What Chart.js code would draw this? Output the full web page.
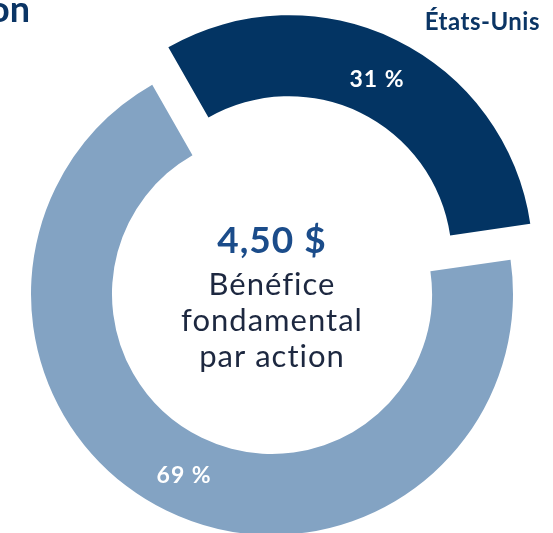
<!DOCTYPE html>
<html lang="fr">
<head>
<meta charset="utf-8">
<script src="https://cdn.jsdelivr.net/npm/chart.js@4.4.1/dist/chart.umd.min.js"></script>
<style>
  html, body { margin: 0; padding: 0; background: #fff; overflow: hidden; }
  #wrap { position: absolute; left: 0; top: 0; width: 544px; height: 588px; }
</style>
</head>
<body>
<div id="wrap"><canvas id="chart"></canvas></div>
<script>
// Données
const categories = ['États-Unis', 'Canada'];
const shares = [31, 69];
const colors = ['#033463', '#83a3c3'];
const centerValue = '4,50 $';
const centerLines = ['Bénéfice', 'fondamental', 'par action'];
const titleTail = 'on';

// Textes : pourcentages sur les arcs, libellé, texte central
const labelsPlugin = {
    id: 'labels',
    afterDatasetsDraw(chart) {
        const ctx = chart.ctx;
        const meta = chart.getDatasetMeta(0);
        ctx.save();
        ctx.textAlign = 'center';
        ctx.textBaseline = 'middle';
        ctx.fillStyle = '#ffffff';
        ctx.font = 'bold 23px Lato';
        ctx.letterSpacing = '1px';
        meta.data.forEach((arc, i) => {
            const p = arc.getProps(['x', 'y', 'startAngle', 'endAngle', 'innerRadius', 'outerRadius'], true);
            const mid = (p.startAngle + p.endAngle) / 2;
            const r = (p.innerRadius + p.outerRadius) / 2 + (arc.options.offset || 0) / 4;
            ctx.fillText(shares[i] + ' %', p.x + Math.cos(mid) * r, p.y + Math.sin(mid) * r + 1);
        });

        const cx = meta.data[0].x;
        ctx.textBaseline = 'alphabetic';
        ctx.fillStyle = '#1b4c8a';
        ctx.font = 'bold 37px Lato';
        ctx.letterSpacing = '1px';
        ctx.fillText(centerValue, cx, 253);

        ctx.fillStyle = '#1d2840';
        ctx.font = '31px Lato';
        ctx.letterSpacing = '1px';
        const baselines = [295, 331, 367];
        centerLines.forEach((line, i) => ctx.fillText(line, cx, baselines[i]));

        // libellé de la série foncée
        ctx.textAlign = 'right';
        ctx.fillStyle = '#0b3565';
        ctx.font = 'bold 24px Lato';
        ctx.letterSpacing = '0.5px';
        ctx.fillText(categories[0], 540, 30);

        // fin du titre coupé
        ctx.font = 'bold 36px Lato';
        ctx.letterSpacing = '0px';
        ctx.fillText(titleTail, 30, 22);
        ctx.restore();
    }
};

new Chart(document.getElementById('chart'), {
    type: 'doughnut',
    data: {
        labels: categories,
        datasets: [{
            data: shares,
            backgroundColor: colors,
            borderWidth: 0,
            offset: [156, 0],
            hoverOffset: 0
        }]
    },
    options: {
        responsive: true,
        maintainAspectRatio: false,
        animation: false,
        events: [],
        radius: 241,
        cutout: '66.4%',
        rotation: -29.8,
        layout: { padding: 0 },
        plugins: {
            legend: { display: false },
            tooltip: { enabled: false }
        }
    },
    plugins: [labelsPlugin]
});
</script>
</body>
</html>
